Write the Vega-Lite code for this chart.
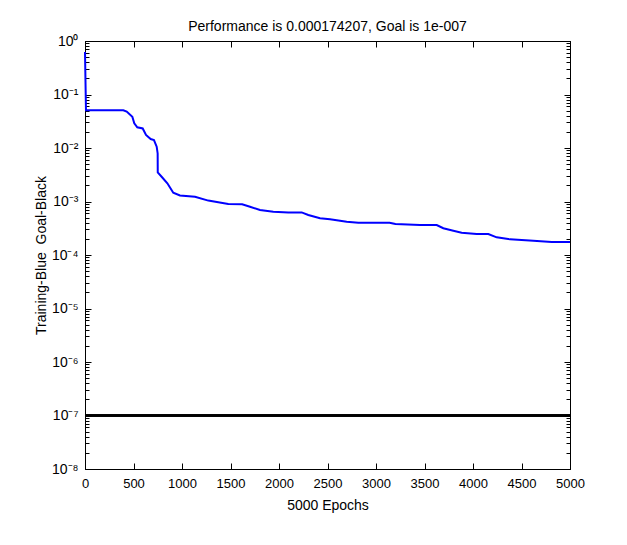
{
  "$schema": "https://vega.github.io/schema/vega-lite/v6.json",
  "width": 485,
  "height": 428,
  "autosize": {"type": "none"},
  "padding": {"left": 85, "top": 41, "right": 57, "bottom": 76},
  "background": "white",
  "title": {"text": "Performance is 0.000174207, Goal is 1e-007", "font": "Liberation Sans", "fontSize": 14, "fontWeight": "normal", "color": "black", "offset": 0, "anchor": "middle"},
  "config": {
    "view": {"stroke": "black", "strokeWidth": 1},
    "axis": {"grid": false, "domainColor": "black", "domainWidth": 1, "tickColor": "black", "tickWidth": 1, "labelColor": "black", "titleColor": "black", "labelFont": "Liberation Sans", "titleFont": "Liberation Sans", "labelFontSize": 13, "titleFontSize": 14, "titleFontWeight": "normal", "labelOverlap": false}
  },
  "datasets": {
    "training": [
      {"epoch": 0, "perf": 0.62},
      {"epoch": 10, "perf": 0.0507},
      {"epoch": 395, "perf": 0.0507},
      {"epoch": 430, "perf": 0.048},
      {"epoch": 488, "perf": 0.0385},
      {"epoch": 508, "perf": 0.0289},
      {"epoch": 539, "perf": 0.0244},
      {"epoch": 595, "perf": 0.0232},
      {"epoch": 629, "perf": 0.0175},
      {"epoch": 677, "perf": 0.0147},
      {"epoch": 711, "perf": 0.0141},
      {"epoch": 739, "perf": 0.0106},
      {"epoch": 749, "perf": 0.0079},
      {"epoch": 750, "perf": 0.0035},
      {"epoch": 790, "perf": 0.0029},
      {"epoch": 849, "perf": 0.00219},
      {"epoch": 910, "perf": 0.00146},
      {"epoch": 979, "perf": 0.0013},
      {"epoch": 1134, "perf": 0.00123},
      {"epoch": 1271, "perf": 0.00104},
      {"epoch": 1477, "perf": 0.0009},
      {"epoch": 1620, "perf": 0.00089},
      {"epoch": 1701, "perf": 0.0008},
      {"epoch": 1804, "perf": 0.000693},
      {"epoch": 1941, "perf": 0.000645},
      {"epoch": 2096, "perf": 0.000626},
      {"epoch": 2234, "perf": 0.000626},
      {"epoch": 2302, "perf": 0.00056},
      {"epoch": 2423, "perf": 0.000485},
      {"epoch": 2526, "perf": 0.000465},
      {"epoch": 2698, "perf": 0.00042},
      {"epoch": 2818, "perf": 0.000402},
      {"epoch": 3140, "perf": 0.000402},
      {"epoch": 3200, "perf": 0.00038},
      {"epoch": 3454, "perf": 0.000364},
      {"epoch": 3626, "perf": 0.000364},
      {"epoch": 3694, "perf": 0.000316},
      {"epoch": 3797, "perf": 0.000285},
      {"epoch": 3883, "perf": 0.000261},
      {"epoch": 4038, "perf": 0.000247},
      {"epoch": 4158, "perf": 0.000247},
      {"epoch": 4244, "perf": 0.000214},
      {"epoch": 4381, "perf": 0.000196},
      {"epoch": 4622, "perf": 0.000185},
      {"epoch": 4811, "perf": 0.000175},
      {"epoch": 5000, "perf": 0.000174207}
    ],
    "goal": [
      {"epoch": 0, "perf": 1e-7},
      {"epoch": 5000, "perf": 1e-7}
    ]
  },
  "resolve": {"axis": {"x": "independent", "y": "independent"}},
  "layer": [
    {
      "data": {"name": "goal"},
      "mark": {"type": "line", "color": "black", "strokeWidth": 2.5},
      "encoding": {
        "x": {"field": "epoch", "type": "quantitative", "scale": {"domain": [0, 5000], "nice": false, "zero": false}, "axis": null},
        "y": {"field": "perf", "type": "quantitative", "scale": {"type": "log", "domain": [1e-8, 1], "nice": false},
          "axis": {"orient": "left",
            "values": [2e-8, 3e-8, 4e-8, 5e-8, 6e-8, 7e-8, 8e-8, 9e-8, 2e-7, 3e-7, 4e-7, 5e-7, 6e-7, 7e-7, 8e-7, 9e-7, 2e-6, 3e-6, 4e-6, 5e-6, 6e-6, 7e-6, 8e-6, 9e-6, 2e-5, 3e-5, 4e-5, 5e-5, 6e-5, 7e-5, 8e-5, 9e-5, 2e-4, 3e-4, 4e-4, 5e-4, 6e-4, 7e-4, 8e-4, 9e-4, 0.002, 0.003, 0.004, 0.005, 0.006, 0.007, 0.008, 0.009, 0.02, 0.03, 0.04, 0.05, 0.06, 0.07, 0.08, 0.09, 0.2, 0.3, 0.4, 0.5, 0.6, 0.7, 0.8, 0.9],
            "tickSize": -4, "labels": false, "domain": false, "title": null}}
      }
    },
    {
      "data": {"name": "goal"},
      "mark": {"type": "line", "color": "black", "strokeWidth": 2.5},
      "encoding": {
        "x": {"field": "epoch", "type": "quantitative", "scale": {"domain": [0, 5000], "nice": false, "zero": false}, "axis": null},
        "y": {"field": "perf", "type": "quantitative", "scale": {"type": "log", "domain": [1e-8, 1], "nice": false},
          "axis": {"orient": "right",
            "values": [2e-8, 3e-8, 4e-8, 5e-8, 6e-8, 7e-8, 8e-8, 9e-8, 2e-7, 3e-7, 4e-7, 5e-7, 6e-7, 7e-7, 8e-7, 9e-7, 2e-6, 3e-6, 4e-6, 5e-6, 6e-6, 7e-6, 8e-6, 9e-6, 2e-5, 3e-5, 4e-5, 5e-5, 6e-5, 7e-5, 8e-5, 9e-5, 2e-4, 3e-4, 4e-4, 5e-4, 6e-4, 7e-4, 8e-4, 9e-4, 0.002, 0.003, 0.004, 0.005, 0.006, 0.007, 0.008, 0.009, 0.02, 0.03, 0.04, 0.05, 0.06, 0.07, 0.08, 0.09, 0.2, 0.3, 0.4, 0.5, 0.6, 0.7, 0.8, 0.9],
            "tickSize": -4, "labels": false, "domain": false, "title": null}}
      }
    },
    {
      "data": {"name": "training"},
      "mark": {"type": "line", "color": "#0000ff", "strokeWidth": 2},
      "encoding": {
        "x": {"field": "epoch", "type": "quantitative", "scale": {"domain": [0, 5000], "nice": false, "zero": false},
          "axis": {"orient": "bottom", "values": [0, 500, 1000, 1500, 2000, 2500, 3000, 3500, 4000, 4500, 5000], "format": "d", "tickSize": -6, "labelPadding": 20, "labelBaseline": "middle", "title": "5000 Epochs", "titleY": 36, "titleBaseline": "middle", "labelFlush": false}},
        "y": {"field": "perf", "type": "quantitative", "scale": {"type": "log", "domain": [1e-8, 1], "nice": false},
          "axis": {"orient": "left",
            "values": [1e-8, 1e-7, 1e-6, 1e-5, 1e-4, 0.001, 0.01, 0.1, 1],
            "tickSize": -6,
            "labelPadding": 13,
            "labelFontSize": 14,
            "labelExpr": "'10' + ['⁻⁸','⁻⁷','⁻⁶','⁻⁵','⁻⁴','⁻³','⁻²','⁻¹','⁰'][round(log(datum.value)/LN10) + 8]",
            "labelFlush": false,
            "title": "Training-Blue\u00a0\u00a0Goal-Black", "titleX": -44, "titleY": 214, "titleAngle": -90, "titleAlign": "center", "titleBaseline": "middle"}}
      }
    },
    {
      "data": {"name": "goal"},
      "mark": {"type": "line", "color": "black", "strokeWidth": 2.5},
      "encoding": {
        "x": {"field": "epoch", "type": "quantitative", "scale": {"domain": [0, 5000], "nice": false, "zero": false},
          "axis": {"orient": "top", "values": [0, 500, 1000, 1500, 2000, 2500, 3000, 3500, 4000, 4500, 5000], "tickSize": -6, "labels": false, "title": null}},
        "y": {"field": "perf", "type": "quantitative", "scale": {"type": "log", "domain": [1e-8, 1], "nice": false},
          "axis": {"orient": "right",
            "values": [1e-8, 1e-7, 1e-6, 1e-5, 1e-4, 0.001, 0.01, 0.1, 1],
            "tickSize": -6,
            "labels": false, "title": null}}
      }
    }
  ]
}
